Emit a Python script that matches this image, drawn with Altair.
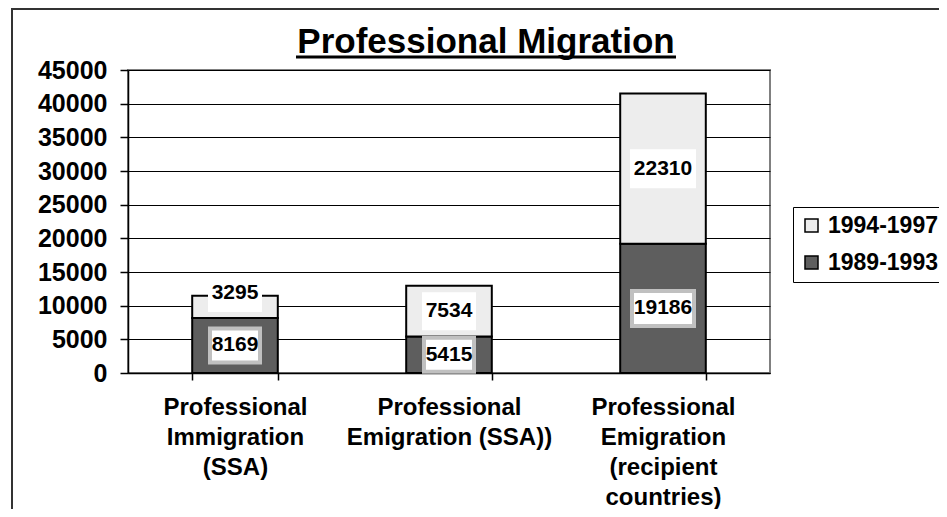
import altair as alt
import pandas as pd

# ---- data ----
categories = [
    "Professional|Immigration|(SSA)",
    "Professional|Emigration (SSA))",
    "Professional|Emigration|(recipient|countries)",
]
series_names = ["1989-1993", "1994-1997"]
values_1989_1993 = [8169, 5415, 19186]
values_1994_1997 = [3295, 7534, 22310]
y_ticks = [0, 5000, 10000, 15000, 20000, 25000, 30000, 35000, 40000, 45000]
chart_title = "Professional Migration"

rows = []
for c, a, b in zip(categories, values_1989_1993, values_1994_1997):
    rows.append({"cat": c, "series": series_names[0], "value": a, "ord": 0})
    rows.append({"cat": c, "series": series_names[1], "value": b, "ord": 1})
df = pd.DataFrame(rows)

FONT = "Liberation Sans"
DARK = "#5e5e5e"
LIGHT = "#ededed"

x_axis = alt.Axis(
    title=None,
    labelExpr="split(datum.label, '|')",
    labelAngle=0,
    labelAlign="center",
    labelBaseline="top",
    labelFont=FONT,
    labelFontSize=24,
    labelFontWeight="bold",
    labelColor="black",
    labelLineHeight=30,
    labelPadding=15,
    labelLimit=400,
    tickBand="extent",
    tickSize=7,
    tickColor="black",
    tickWidth=1.5,
    domainColor="black",
    domainWidth=1.5,
    grid=False,
)

y_axis = alt.Axis(
    title=None,
    values=y_ticks,
    format="d",
    labelOverlap=False,
    labelFont=FONT,
    labelFontSize=25,
    labelFontWeight="bold",
    labelColor="black",
    labelPadding=13,
    tickSize=8,
    tickColor="black",
    tickWidth=1.5,
    domainColor="black",
    domainWidth=1.5,
    grid=True,
    gridColor="black",
    gridWidth=1,
)

x_scale = alt.Scale(paddingInner=0.6, paddingOuter=0.3)
y_scale = alt.Scale(domain=[0, 45000], nice=False)

x_enc = alt.X("cat:N", sort=categories, scale=x_scale, axis=x_axis)

base = alt.Chart(df).transform_stack(
    stack="value",
    groupby=["cat"],
    as_=["y0", "y1"],
    sort=[alt.SortField("ord", order="ascending")],
).transform_calculate(
    mid="datum.value < 4000 ? datum.y1 + 400 : (datum.y0 + datum.y1) / 2",
    nd="length(toString(datum.value)) > 4 ? 'w' : 'n'",
)

bars = base.mark_bar(stroke="black", strokeWidth=2, opacity=1).encode(
    x=x_enc,
    y=alt.Y("y1:Q", scale=y_scale, axis=y_axis),
    y2="y0:Q",
    color=alt.Color(
        "series:N",
        scale=alt.Scale(domain=[series_names[1], series_names[0]], range=[LIGHT, DARK]),
        legend=alt.Legend(
            title=None,
            orient="none",
            legendX=665,
            legendY=137,
            direction="vertical",
            symbolType="square",
            symbolSize=169,
            symbolStrokeColor="black",
            symbolStrokeWidth=1.5,
            labelFont=FONT,
            labelFontSize=23,
            labelFontWeight="bold",
            labelColor="black",
            labelOffset=5,
            labelLimit=300,
            rowPadding=13,
            padding=7,
            strokeColor="black",
            fillColor="white",
        ),
    ),
)

path_n = "M-2.5,-1.7L2.5,-1.7L2.5,1.7L-2.5,1.7Z"
path_w = "M-3.1,-1.75L3.1,-1.75L3.1,1.75L-3.1,1.75Z"

boxes = base.mark_point(filled=True, fill="white", size=400, strokeWidth=4, opacity=1).encode(
    x=x_enc,
    y=alt.Y("mid:Q", scale=y_scale, axis=y_axis),
    shape=alt.Shape("nd:N", scale=alt.Scale(domain=["n", "w"], range=[path_n, path_w]), legend=None),
    stroke=alt.Stroke(
        "series:N",
        scale=alt.Scale(domain=[series_names[0], series_names[1]], range=["#c0c0c0", "white"]),
        legend=None,
    ),
)

labels = base.mark_text(
    font=FONT, fontSize=21, fontWeight="bold", color="black", baseline="middle", align="center"
).encode(
    x=x_enc,
    y=alt.Y("mid:Q", scale=y_scale, axis=y_axis),
    text=alt.Text("value:Q", format="d"),
)

deco = alt.Chart(pd.DataFrame({"t": [chart_title]}))

frame = deco.mark_rect(fillOpacity=0, stroke="#333333", strokeWidth=2).encode(
    x=alt.value(-116), x2=alt.value(900), y=alt.value(-61), y2=alt.value(500)
)

title = deco.mark_text(
    font=FONT, fontSize=35, fontWeight="bold", color="black", align="center", baseline="alphabetic"
).encode(x=alt.value(358), y=alt.value(-17), text="t:N")

underline = deco.mark_rule(color="black", strokeWidth=3).encode(
    x=alt.value(168), x2=alt.value(548), y=alt.value(-13)
)

chart = alt.layer(frame, bars, boxes, labels, title, underline).resolve_scale(
    shape="independent", stroke="independent"
).properties(
    width=642,
    height=303,
    autosize=alt.AutoSizeParams(type="none"),
    padding={"left": 120, "top": 62, "right": 169, "bottom": 136},
    background="white",
).configure_view(
    stroke="#808080", strokeWidth=2
)

chart.save("out.html", embed_options={"renderer": "svg", "actions": False})
